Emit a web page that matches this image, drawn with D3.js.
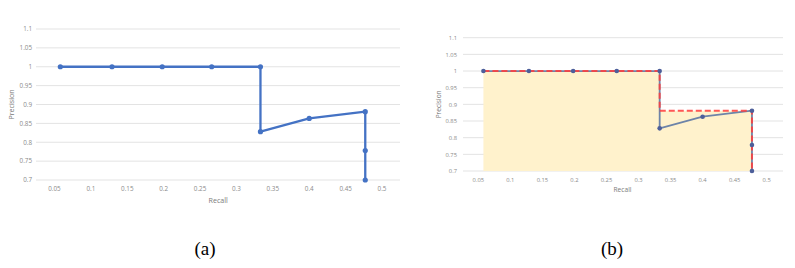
<!DOCTYPE html>
<html><head><meta charset="utf-8">
<script src="https://cdn.jsdelivr.net/npm/d3@7"></script>
<style>body{margin:0;background:#fff}svg{display:block}</style>
</head><body>
<svg id="c" width="795" height="268"></svg>
<script>
const recall    = [0.058, 0.129, 0.198, 0.266, 0.333, 0.333, 0.400, 0.477, 0.477, 0.477];
const precision = [1.000, 1.000, 1.000, 1.000, 1.000, 0.828, 0.863, 0.881, 0.778, 0.700];
const interpRecall    = [0.058, 0.333, 0.333, 0.477, 0.477];
const interpPrecision = [1.000, 1.000, 0.881, 0.881, 0.700];
const xTicks = [0.05,0.1,0.15,0.2,0.25,0.3,0.35,0.4,0.45,0.5];
const yTicks = [0.7,0.75,0.8,0.85,0.9,0.95,1,1.05,1.1];
const captions = ["(a)", "(b)"];

const svg = d3.select("#c");
const fmt = d => String(+d.toFixed(2));

function panel(o){
  const g = svg.append("g");
  const x = d3.scaleLinear().domain([0.05,0.5]).range([o.x05, o.x50]);
  const y = d3.scaleLinear().domain([0.7,1.1]).range([o.y07, o.y11]);
  g.selectAll("line.grid").data(yTicks).join("line")
    .attr("x1", o.gx0).attr("x2", o.gx1)
    .attr("y1", d=>y(d)).attr("y2", d=>y(d))
    .attr("stroke", "#e3e3e3").attr("stroke-width", 1);
  g.selectAll("text.yl").data(yTicks).join("text")
    .attr("x", o.ylx).attr("y", d=>y(d)+2.3)
    .attr("text-anchor","end").attr("font-family","'Open Sans', sans-serif")
    .attr("font-size", o.fs).attr("fill","#8a8a8a").text(fmt);
  g.selectAll("text.xl").data(xTicks).join("text")
    .attr("x", d=>x(d)).attr("y", o.xly)
    .attr("text-anchor","middle").attr("font-family","'Open Sans', sans-serif")
    .attr("font-size", o.fs).attr("fill","#8a8a8a").text(fmt);
  g.append("text").attr("x", (o.x05+o.x50)/2).attr("y", o.xty)
    .attr("text-anchor","middle").attr("font-family","'Open Sans', sans-serif")
    .attr("font-size", o.fs+0.8).attr("fill","#7a7a7a").text("Recall");
  g.append("text").attr("transform", `translate(${o.ytx},${(y(0.7)+y(1.1))/2}) rotate(-90)`)
    .attr("text-anchor","middle").attr("font-family","'Open Sans', sans-serif")
    .attr("font-size", o.fs+0.8).attr("fill","#7a7a7a").text("Precision");

  const pts = recall.map((r,i)=>[r, precision[i]]);
  const ipts = interpRecall.map((r,i)=>[r, interpPrecision[i]]);
  const line = d3.line().x(d=>x(d[0])).y(d=>y(d[1]));
  if (o.interp) {
    const area = d3.area().x(d=>x(d[0])).y0(y(0.7)).y1(d=>y(d[1]));
    g.append("path").datum(ipts).attr("d", area).attr("fill", "#fff2cc");
  }
  g.append("path").datum(pts).attr("d", line).attr("fill","none")
    .attr("stroke", o.lineColor).attr("stroke-width", o.lw).attr("stroke-linejoin","round");
  if (o.interp) {
    g.append("path").datum(ipts).attr("d", line).attr("fill","none")
      .attr("stroke", "#ff3b3b").attr("stroke-opacity",0.85).attr("stroke-width", 2)
      .attr("stroke-dasharray","6,3");
  }
  g.selectAll("circle").data(pts).join("circle")
    .attr("cx", d=>x(d[0])).attr("cy", d=>y(d[1])).attr("r", o.r)
    .attr("fill", o.markColor);
  svg.append("text").attr("x", o.capx).attr("y", 255)
    .attr("text-anchor","middle").attr("font-family","'Liberation Serif', 'Times New Roman', serif")
    .attr("font-size", 19).attr("fill","#000").text(o.cap);
}

panel({x05:54.5, x50:382, y07:180, y11:29, gx0:36, gx1:400, ylx:32, xly:190.5, xty:203, ytx:14,
  fs:6.3, lineColor:"#4472c4", markColor:"#4472c4", lw:2.3, r:2.6, interp:false, capx:205, cap:captions[0]});
panel({x05:478.3, x50:766.7, y07:171, y11:37.7, gx0:463, gx1:783, ylx:457, xly:181.5, xty:191.5, ytx:441,
  fs:5.8, lineColor:"#6d84a8", markColor:"#4d5f9a", lw:1.8, r:2.3, interp:true, capx:612, cap:captions[1]});
</script>
</body></html>
